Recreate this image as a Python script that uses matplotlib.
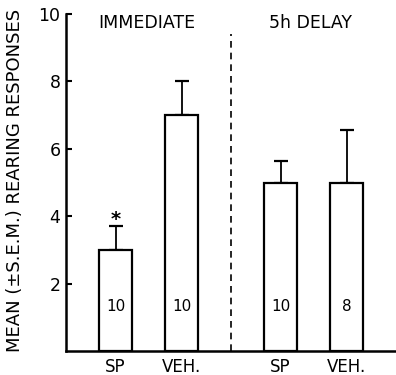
import matplotlib.pyplot as plt

plt.rcParams['font.family'] = ['DejaVu Sans']

groups = ["IMMEDIATE", "5h DELAY"]
labels = ["SP", "VEH.", "SP", "VEH."]
means = [3.0, 7.0, 5.0, 5.0]
sems = [0.7, 1.0, 0.65, 1.55]
ns = ["10", "10", "10", "8"]
xpos = [1.5, 3.5, 6.5, 8.5]

fig = plt.figure(figsize=(3.96, 3.75), dpi=100)
ax = fig.add_axes([66 / 396, 24 / 375, 330 / 396, 337 / 375])

ax.bar(xpos, means, width=1.0, color="white", edgecolor="black", linewidth=1.6, zorder=2)
ax.errorbar(xpos, means, yerr=[[0] * 4, sems], fmt="none", ecolor="black",
            elinewidth=1.3, capsize=5, capthick=1.6, zorder=1)

for x, m, n in zip(xpos, means, ns):
    ax.text(x, 1.33, n, ha="center", va="center", fontsize=11)

# significance marker
ax.text(xpos[0], means[0] + sems[0] + 0.2, "*", ha="center", va="center",
        fontsize=14, fontweight="bold")

ax.plot([5.0, 5.0], [0, 9.4], ls=(0, (4, 3)), color="black", lw=1.2)

ax.text(2.45, 9.72, groups[0], ha="center", va="center", fontsize=12.5)
ax.text(7.4, 9.72, groups[1], ha="center", va="center", fontsize=12.5)

ax.set_xlim(0, 10)
ax.set_ylim(0, 10)
ax.set_yticks([2, 4, 6, 8, 10])
ax.set_yticklabels(["2", "4", "6", "8", "10"], fontsize=12.5)
ax.tick_params(axis="y", direction="in", length=4, width=1.5, pad=4)
ax.set_xticks(xpos)
ax.set_xticklabels(labels, fontsize=12)
ax.tick_params(axis="x", length=0, pad=5)
ax.spines["top"].set_visible(False)
ax.spines["right"].set_visible(False)
ax.spines["left"].set_linewidth(1.8)
ax.spines["bottom"].set_linewidth(1.8)

fig.text(15 / 396, 195 / 375, "MEAN (\u00b1S.E.M.) REARING RESPONSES", rotation=90,
         ha="center", va="center", fontsize=13)

fig.savefig("out.png", dpi=100)
